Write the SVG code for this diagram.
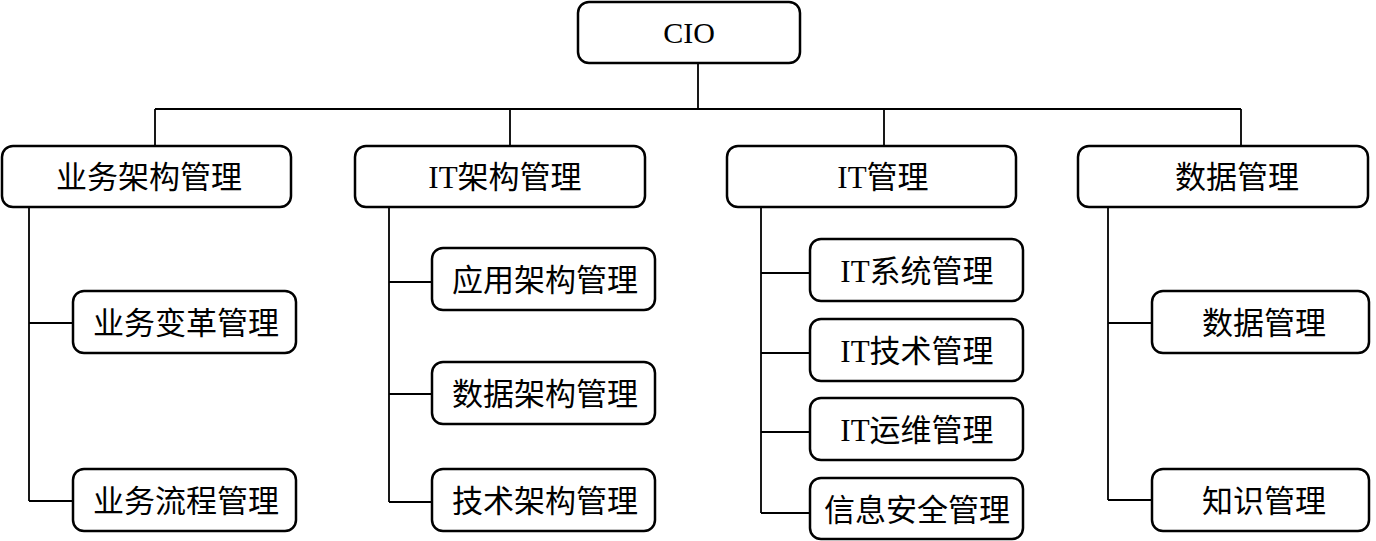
<svg xmlns="http://www.w3.org/2000/svg" width="1376" height="541" viewBox="0 0 1376 541">
<style>
.box{fill:#fff;stroke:#000;stroke-width:2.5}
.t{font-family:"Liberation Serif","Noto Sans CJK SC",serif;font-size:31px;fill:#000;text-anchor:middle}
.c{fill:none;stroke:#000;stroke-width:1.8}
</style>
<rect width="1376" height="541" fill="#fff"/>
<g id="connectors" class="c">
<path d="M698,63 V109 M155,109 H1241 M155,109 V146 M510,109 V146 M884,109 V146 M1241,109 V146"/>
<path d="M29,207 V501 M29,323 H73 M29,501 H73"/>
<path d="M389,207 V502 M389,282 H432 M389,394 H432 M389,502 H432"/>
<path d="M761,207 V513 M761,273 H810 M761,353 H810 M761,432 H810 M761,513 H810"/>
<path d="M1108,207 V500 M1108,323 H1152 M1108,500 H1152"/>
</g>
<g id="cio"><rect class="box" x="578" y="2" width="222" height="61" rx="11"/><text class="t" x="689" y="43" style="font-size:30px">CIO</text></g>
<g id="n1"><rect class="box" x="2" y="146" width="289" height="61" rx="11"/><text class="t" x="149" y="188">业务架构管理</text></g>
<g id="n2"><rect class="box" x="355" y="146" width="290" height="61" rx="11"/><text class="t" x="505" y="188">IT架构管理</text></g>
<g id="n3"><rect class="box" x="727" y="146" width="289" height="61" rx="11"/><text class="t" x="883" y="188">IT管理</text></g>
<g id="n4"><rect class="box" x="1078" y="146" width="290" height="61" rx="11"/><text class="t" x="1237" y="188">数据管理</text></g>
<g id="n1a"><rect class="box" x="73" y="291" width="223" height="62" rx="11"/><text class="t" x="186" y="334">业务变革管理</text></g>
<g id="n1b"><rect class="box" x="73" y="469" width="223" height="62" rx="11"/><text class="t" x="186" y="512">业务流程管理</text></g>
<g id="n2a"><rect class="box" x="432" y="248" width="223" height="62" rx="11"/><text class="t" x="545" y="291">应用架构管理</text></g>
<g id="n2b"><rect class="box" x="432" y="362" width="223" height="62" rx="11"/><text class="t" x="545" y="405">数据架构管理</text></g>
<g id="n2c"><rect class="box" x="432" y="469" width="223" height="62" rx="11"/><text class="t" x="545" y="512">技术架构管理</text></g>
<g id="n3a"><rect class="box" x="810" y="239" width="213" height="62" rx="11"/><text class="t" x="917" y="282">IT系统管理</text></g>
<g id="n3b"><rect class="box" x="810" y="319" width="213" height="62" rx="11"/><text class="t" x="917" y="362">IT技术管理</text></g>
<g id="n3c"><rect class="box" x="810" y="398" width="213" height="62" rx="11"/><text class="t" x="917" y="441">IT运维管理</text></g>
<g id="n3d"><rect class="box" x="810" y="478" width="213" height="61" rx="11"/><text class="t" x="917" y="521">信息安全管理</text></g>
<g id="n4a"><rect class="box" x="1152" y="291" width="217" height="62" rx="11"/><text class="t" x="1264" y="334">数据管理</text></g>
<g id="n4b"><rect class="box" x="1152" y="469" width="217" height="62" rx="11"/><text class="t" x="1264" y="512">知识管理</text></g>
</svg>
